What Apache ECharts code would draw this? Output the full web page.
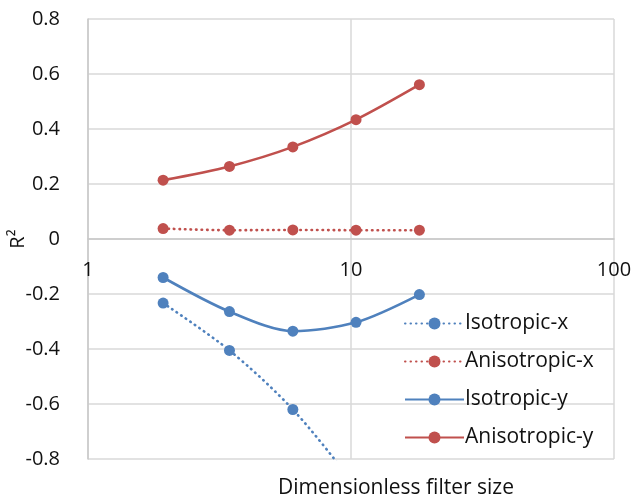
<!DOCTYPE html>
<html>
<head>
<meta charset="utf-8">
<script src="https://cdn.jsdelivr.net/npm/echarts@6/dist/echarts.min.js"></script>
<style>
  html, body { margin: 0; padding: 0; background: #fff; }
  #chart { width: 633px; height: 499px; }
</style>
</head>
<body>
<div id="chart"></div>
<script>
// Filter sizes (dimensionless) shared by all series
const filterSizes = [1.93, 3.45, 6.01, 10.45, 18.2];

// R² values per series
const isotropicX = [-0.233, -0.405, -0.620, -0.90, -1.2];
const anisotropicX = [0.038, 0.032, 0.033, 0.032, 0.032];
const isotropicY = [-0.140, -0.264, -0.335, -0.303, -0.202];
const anisotropicY = [0.214, 0.264, 0.335, 0.434, 0.561];

const seriesNames = ['Isotropic-x', 'Anisotropic-x', 'Isotropic-y', 'Anisotropic-y'];

const BLUE = '#4F81BD';
const RED = '#C0504D';
const FONT = 'Open Sans';
const GRID_LINE = '#d9d9d9';
const AXIS_LINE = '#c8c8c8';

// Plot box; the upper half grid shares it so its bottom edge is the R² = 0 line
const PLOT = { left: 88, right: 19, top: 19, height: 440 };

function pairs(ys) {
  return filterSizes.map((x, i) => [x, ys[i]]);
}

function makeSeries(name, ys, color, dotted) {
  return {
    name: name,
    type: 'line',
    xAxisIndex: 0,
    yAxisIndex: 0,
    data: pairs(ys),
    smooth: 0.3,
    symbol: 'circle',
    symbolSize: 11,
    clip: true,
    itemStyle: { color: color },
    lineStyle: {
      color: color,
      width: 2.6,
      type: dotted ? [0.5, 5] : 'solid',
      cap: dotted ? 'round' : 'butt'
    },
    emphasis: { disabled: true }
  };
}

const chart = echarts.init(document.getElementById('chart'), null, { renderer: 'canvas' });

chart.setOption({
  animation: false,
  backgroundColor: '#fff',
  textStyle: { fontFamily: FONT },
  grid: [
    { left: PLOT.left, right: PLOT.right, top: PLOT.top, height: PLOT.height, outerBoundsMode: 'none', containLabel: false },
    // upper half (0 … 0.8): carries the log tick labels along the zero line
    { left: PLOT.left, right: PLOT.right, top: PLOT.top, height: PLOT.height / 2, outerBoundsMode: 'none', containLabel: false }
  ],
  title: {
    text: 'Dimensionless filter size',
    left: 391,
    top: 473,
    textAlign: 'center',
    textStyle: { fontFamily: FONT, fontSize: 21, fontWeight: 'normal', color: '#111' }
  },
  legend: {
    data: seriesNames,
    orient: 'vertical',
    left: 399,
    top: 308,
    itemWidth: 59,
    itemHeight: 15,
    itemGap: 17,
    textStyle: { fontFamily: FONT, fontSize: 21, color: '#111', padding: [0, 0, 0, -4] },
    backgroundColor: 'transparent'
  },
  xAxis: [
    {
      gridIndex: 0,
      type: 'log',
      logBase: 10,
      min: 1,
      max: 100,
      axisLine: { show: false },
      axisTick: { show: false },
      axisLabel: { show: false },
      splitLine: { show: true, lineStyle: { color: GRID_LINE, width: 1.5 } },
      minorTick: { show: false }
    },
    {
      gridIndex: 1,
      type: 'log',
      logBase: 10,
      min: 1,
      max: 100,
      position: 'bottom',
      axisLine: { show: true, onZero: false, lineStyle: { color: AXIS_LINE, width: 1.5 } },
      axisTick: { show: false },
      axisLabel: { fontFamily: FONT, fontSize: 20, color: '#111', margin: 21 },
      splitLine: { show: false }
    }
  ],
  yAxis: [
    {
      gridIndex: 0,
      type: 'value',
      min: -0.8,
      max: 0.8,
      interval: 0.2,
      name: 'R²',
      nameLocation: 'middle',
      nameRotate: 90,
      nameGap: 60,
      nameMoveOverlap: false,
      nameTextStyle: { fontFamily: FONT, fontSize: 20, color: '#111' },
      axisLine: { show: true, onZero: false, lineStyle: { color: AXIS_LINE, width: 1.5 } },
      axisTick: { show: false },
      axisLabel: {
        fontFamily: FONT,
        fontSize: 20,
        color: '#111',
        margin: 28,
        formatter: function (v) {
          const r = Math.round(v * 10) / 10;
          return r === 0 ? '0' : String(r);
        }
      },
      splitLine: { show: true, lineStyle: { color: GRID_LINE, width: 1.5 } }
    },
    {
      gridIndex: 1,
      type: 'value',
      min: 0,
      max: 0.8,
      show: false
    }
  ],
  series: [
    makeSeries(seriesNames[0], isotropicX, BLUE, true),
    makeSeries(seriesNames[1], anisotropicX, RED, true),
    makeSeries(seriesNames[2], isotropicY, BLUE, false),
    makeSeries(seriesNames[3], anisotropicY, RED, false)
  ]
});
</script>
</body>
</html>
